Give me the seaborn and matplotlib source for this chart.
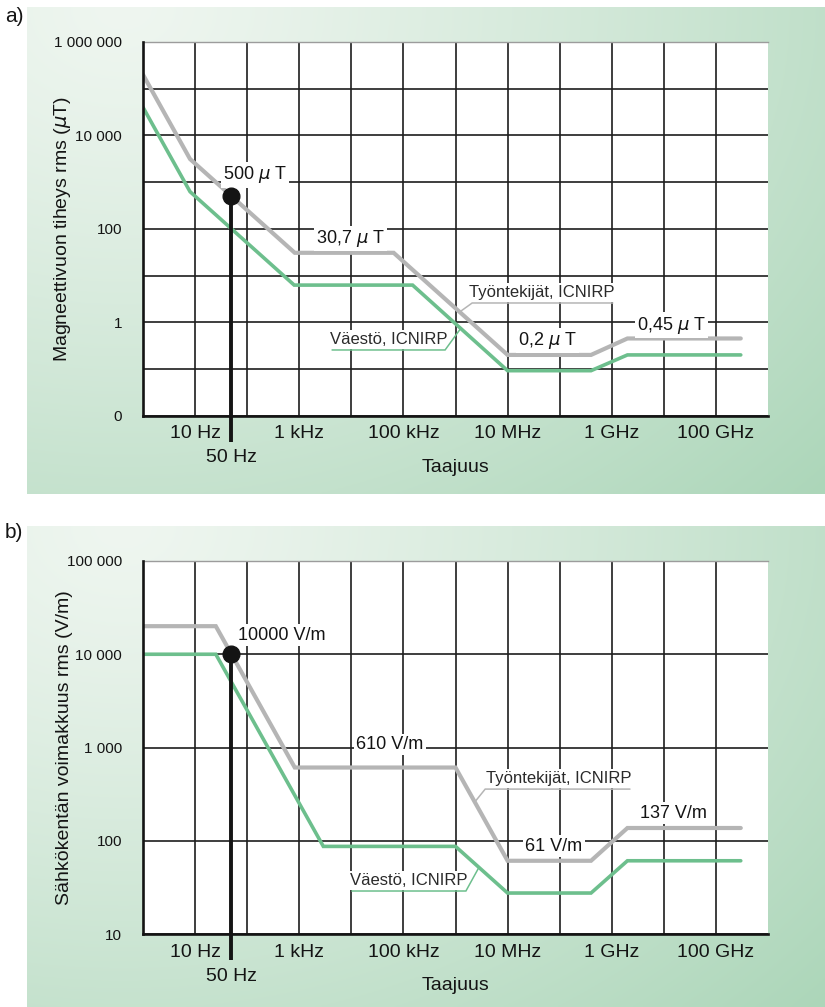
import numpy as np
import pandas as pd
import matplotlib
matplotlib.use("Agg")
import matplotlib.pyplot as plt
from matplotlib.ticker import FixedLocator, FixedFormatter, NullFormatter
import seaborn as sns

# ---------------------------------------------------------------- data
# a) magnetic flux density limits (µT) vs frequency (Hz)
freq_workers_B = [1, 8, 820, 65e3, 10e6, 400e6, 2e9, 300e9]
workers_B = [2e5, 3125, 30.7, 30.7, 0.2, 0.2, 0.45, 0.45]
freq_public_B = [1, 8, 800, 150e3, 10e6, 400e6, 2e9, 300e9]
public_B = [4e4, 625, 6.25, 6.25, 0.092, 0.092, 0.2, 0.2]

# b) electric field strength limits (V/m) vs frequency (Hz)
freq_workers_E = [1, 25, 820, 1e6, 10e6, 400e6, 2e9, 300e9]
workers_E = [2e4, 2e4, 610, 610, 61, 61, 137, 137]
freq_public_E = [1, 25, 2.9e3, 1e6, 10e6, 400e6, 2e9, 300e9]
public_E = [1e4, 1e4, 87, 87, 27.5, 27.5, 61, 61]

# mains frequency marker
mark_freq = 50
mark_B = 500
mark_E = 10000

x_tick_vals = [1e1, 1e3, 1e5, 1e7, 1e9, 1e11]
x_tick_labels = ["10 Hz", "1 kHz", "100 kHz", "10 MHz", "1 GHz", "100 GHz"]

yB_ticks = [1e-2, 1e-1, 1e0, 1e1, 1e2, 1e3, 1e4, 1e5, 1e6]
yB_labels = ["0", "", "1", "", "100", "", "10 000", "", "1 000 000"]
yE_ticks = [1e1, 1e2, 1e3, 1e4, 1e5]
yE_labels = ["10", "100", "1 000", "10 000", "100 000"]

series_workers = "Työntekijät, ICNIRP"
series_public = "Väestö, ICNIRP"

GRAY = "#b5b5b5"
GREEN = "#6dbf8d"
INK = "#141414"

# ---------------------------------------------------------------- style
sns.set_theme(style="white")
plt.rcParams["font.family"] = ["Liberation Sans", "DejaVu Sans"]
plt.rcParams["mathtext.fontset"] = "dejavusans"

W, H = 825, 1007
fig = plt.figure(figsize=(W / 100, H / 100), dpi=100)


def frac_rect(x0, y0, x1, y1):
    return [x0 / W, 1 - y1 / H, (x1 - x0) / W, (y1 - y0) / H]


def background(rect):
    """Soft green radial wash behind a panel."""
    bg = fig.add_axes(frac_rect(*rect), zorder=-10)
    nx, ny = 400, 240
    xs = np.linspace(0, 1, nx)
    ys = np.linspace(0, 1, ny)
    X, Y = np.meshgrid(xs, ys)
    d = np.sqrt(((X - 0.12) / 1.0) ** 2 + ((Y - 0.0) / 1.25) ** 2)
    d = np.clip(d / d.max(), 0, 1) ** 1.2
    pale = np.array([239, 246, 240]) / 255
    deep = np.array([172, 214, 185]) / 255
    img = pale[None, None, :] * (1 - d[..., None]) + deep[None, None, :] * d[..., None]
    bg.imshow(img, aspect="auto", origin="upper", extent=[0, 1, 0, 1])
    bg.set_axis_off()


def curve(ax, freqs, vals, name, color, lw):
    df = pd.DataFrame({"f": freqs, "v": vals, "s": name})
    sns.lineplot(data=df, x="f", y="v", ax=ax, color=color, lw=lw,
                 sort=False, estimator=None, legend=False, zorder=3,
                 solid_joinstyle="miter")


def interp_log(freqs, vals, xd):
    return np.interp(xd, np.log10(freqs), np.log10(vals))


def panel(rect, fw, vw, fp, vp, ylim, yticks, ylabels, ylabel,
          mark_val, mark_text, notes):
    ax = fig.add_axes(frac_rect(*rect), zorder=1)
    ax.set_facecolor("white")
    ax.set_xscale("log")
    ax.set_yscale("log")
    ax.set_xlim(1, 1e12)
    ax.set_ylim(*ylim)

    curve(ax, fw, vw, series_workers, GRAY, 3.0)
    curve(ax, fp, vp, series_public, GREEN, 2.6)

    # axes furniture
    ax.xaxis.set_major_locator(FixedLocator(x_tick_vals))
    ax.xaxis.set_major_formatter(FixedFormatter(x_tick_labels))
    ax.xaxis.set_minor_locator(FixedLocator([1e2, 1e4, 1e6, 1e8, 1e10]))
    ax.xaxis.set_minor_formatter(NullFormatter())
    ax.yaxis.set_major_locator(FixedLocator(yticks))
    ax.yaxis.set_major_formatter(FixedFormatter(ylabels))
    ax.yaxis.set_minor_locator(FixedLocator([ylim[0], ylim[1]]))
    ax.yaxis.set_minor_formatter(NullFormatter())

    ax.tick_params(axis="x", which="both", length=0, pad=7, labelsize=14,
                   labelcolor=INK, bottom=True)
    ax.tick_params(axis="y", which="major", length=11, color=(0, 0, 0, 0),
                   pad=4, labelsize=11, labelcolor=INK, left=True)
    ax.tick_params(axis="y", which="minor", length=11, width=1.3,
                   color=INK, left=True)

    ax.grid(True, axis="x", which="both", color="#1e1e1e", lw=1.2, zorder=1)
    ax.grid(True, axis="y", which="major", color="#1e1e1e", lw=1.2, zorder=1)
    ax.yaxis.get_major_ticks()[-1].gridline.set_visible(False)
    ax.set_axisbelow(True)

    for side in ("left", "bottom"):
        ax.spines[side].set_color(INK)
        ax.spines[side].set_linewidth(1.9)
        ax.spines[side].set_zorder(4)
    ax.spines["top"].set_color("#9c9c9c")
    ax.spines["top"].set_linewidth(1.0)
    ax.spines["right"].set_visible(False)

    height_px = rect[3] - rect[1]
    width_px = rect[2] - rect[0]
    ax.set_xlabel("Taajuus", fontsize=14, color=INK)
    ax.xaxis.set_label_coords(0.5, -43 / height_px)
    ax.set_ylabel(ylabel, fontsize=14, color=INK)
    ax.yaxis.set_label_coords(-(143 - 73) / width_px, 0.5)

    # mains-frequency marker
    lo, hi = ylim
    ext = lo / (hi / lo) ** 0.07
    ax.plot([mark_freq, mark_freq], [ext, mark_val], color=INK, lw=2.8,
            clip_on=False, zorder=6, solid_capstyle="butt")
    ax.plot([mark_freq], [mark_val], "o", ms=12, color=INK, zorder=7,
            clip_on=False)
    ax.text(mark_freq, -0.113, f"{mark_freq} Hz", transform=ax.get_xaxis_transform(),
            ha="center", va="center", fontsize=14, color=INK)

    box = dict(fc="white", ec="none", pad=1.5)
    xd_m, yd_m = mark_text[1]
    ax.text(10 ** xd_m, 10 ** yd_m, mark_text[0], ha="center", va="center",
            fontsize=13, color=INK, bbox=box, zorder=5)

    for kind, payload in notes:
        if kind == "value":
            txt, (xd, yd) = payload
            ax.text(10 ** xd, 10 ** yd, txt, ha="center", va="center",
                    fontsize=13, color=INK, bbox=box, zorder=5)
        else:
            txt, (xd, yd), (ux0, ux1, uy), tip_x, side, freqs, vals, col = payload
            ax.text(10 ** xd, 10 ** yd, txt, ha="center", va="center",
                    fontsize=12, color="#2a2a2a", bbox=box, zorder=5)
            tip_y = interp_log(freqs, vals, tip_x)
            if side == "left":
                xs = [ux1, ux0, tip_x]
                ys = [uy, uy, tip_y]
            else:
                xs = [ux0, ux1, tip_x]
                ys = [uy, uy, tip_y]
            ax.plot(10 ** np.array(xs), 10 ** np.array(ys), color=col,
                    lw=1.1, zorder=5, solid_joinstyle="miter")
    return ax


background((27, 7, 825, 494))
background((27, 526, 825, 1007))

panel((143, 42, 768, 415.7),
      freq_workers_B, workers_B, freq_public_B, public_B,
      (1e-2, 1e6), yB_ticks, yB_labels, r"Magneettivuon tiheys rms ($\mu$T)",
      mark_B, (f"{mark_B} $\\mu$ T", (2.15, 3.154)),
      [("value", ("30,7 $\\mu$ T", (3.99, 1.80))),
       ("value", ("0,2 $\\mu$ T", (7.77, -0.39))),
       ("value", ("0,45 $\\mu$ T", (10.15, -0.06))),
       ("series", (series_workers, (7.65, 0.634), (6.32, 9.02, 0.413), 6.08,
                   "left", freq_workers_B, workers_B, GRAY)),
       ("series", (series_public, (4.71, -0.364), (3.63, 5.80, -0.593), 6.10,
                   "right", freq_public_B, public_B, GREEN))])

panel((143, 561, 768, 934),
      freq_workers_E, workers_E, freq_public_E, public_E,
      (1e1, 1e5), yE_ticks, yE_labels, "Sähkökentän voimakkuus rms (V/m)",
      mark_E, (f"{mark_E} V/m", (2.66, 4.205)),
      [("value", ("610 V/m", (4.74, 3.03))),
       ("value", ("61 V/m", (7.89, 1.943))),
       ("value", ("137 V/m", (10.19, 2.297))),
       ("series", (series_workers, (7.99, 2.672), (6.57, 9.35, 2.554), 6.37,
                   "left", freq_workers_E, workers_E, GRAY)),
       ("series", (series_public, (5.10, 1.579), (4.01, 6.20, 1.461), 6.45,
                   "right", freq_public_E, public_E, GREEN))])

fig.text(5 / W, 1 - 16 / H, "a)", fontsize=15, color=INK, ha="left", va="center")
fig.text(5 / W, 1 - 533 / H, "b)", fontsize=15, color=INK, ha="left", va="center")

fig.savefig("out.png", dpi=100, facecolor="white")
